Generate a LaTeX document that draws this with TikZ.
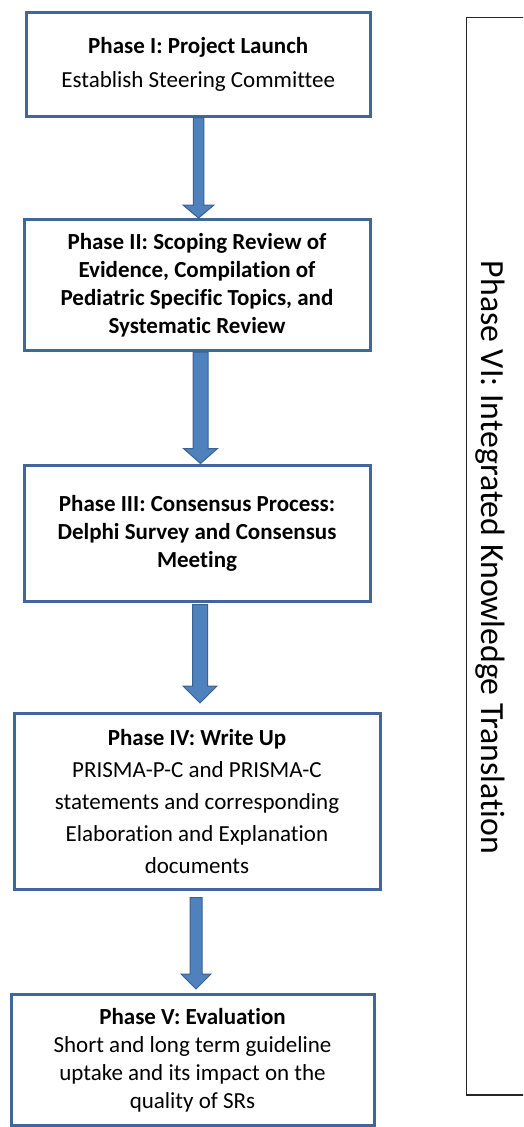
\documentclass[tikz,border=0pt]{standalone}
\usepackage{fontspec}
\setmainfont{Carlito}[Ligatures={NoCommon}]
\usetikzlibrary{calc}
\definecolor{boxblue}{HTML}{41679A}
\definecolor{arrowfill}{HTML}{4F81BD}
\definecolor{arrowline}{HTML}{3A6194}
\tikzset{
  phasebox/.style={draw=boxblue, line width=3pt, fill=white, rectangle, inner sep=0pt, align=center,
    font=\fontsize{23}{28}\selectfont},
  blockarrow/.style={draw=arrowline, fill=arrowfill, line width=1pt, line join=miter},
  sidebox/.style={draw=black!85, line width=1.2pt},
}
% #1 from, #2 to, #3 x centre, #4 shaft half width, #5 head half width, #6 head length, #7 start gap, #8 end gap
\newcommand{\phasearrow}[8]{%
  \path let \p1=(#1.south), \p2=(#2.north) in
    [blockarrow] (#3-#4,\y1-#7) -- (#3-#4,\y2+#8+#6) -- (#3-#5,\y2+#8+#6) -- (#3,\y2+#8)
      -- (#3+#5,\y2+#8+#6) -- (#3+#4,\y2+#8+#6) -- (#3+#4,\y1-#7) -- cycle;
}
\begin{document}
\begin{tikzpicture}[x=1pt,y=1pt]
\clip (0,0) rectangle (523,-1127);
\fill[white] (0,0) rectangle (523,-1127);

\node[phasebox, minimum width=344.5pt, minimum height=104pt, font=\fontsize{23}{34}\selectfont] (b1) at (198.25,-64)
  {\textbf{Phase I: Project Launch}\\Establish Steering Committee};
\node[phasebox, minimum width=346pt, minimum height=131pt] (b2) at (197,-285)
  {\textbf{Phase II: Scoping Review of}\\\textbf{Evidence, Compilation of}\\\textbf{Pediatric Specific Topics, and}\\\textbf{Systematic Review}};
\node[phasebox, minimum width=346pt, minimum height=135.5pt] (b3) at (197,-533.25)
  {\textbf{Phase III: Consensus Process:}\\\textbf{Delphi Survey and Consensus}\\\textbf{Meeting}};
\node[phasebox, minimum width=366pt, minimum height=176.5pt, font=\fontsize{23}{32}\selectfont] (b4) at (197,-801.25)
  {\textbf{Phase IV: Write Up}\\PRISMA-P-C and PRISMA-C\\statements and corresponding\\Elaboration and Explanation\\documents};
\node[phasebox, minimum width=363pt, minimum height=131pt] (b5) at (192.5,-1060)
  {\textbf{Phase V: Evaluation}\\Short and long term guideline\\uptake and its impact on the\\quality of SRs};

\phasearrow{b1}{b2}{198.5}{5.25}{15.5}{13}{0}{0}
\phasearrow{b2}{b3}{200.5}{7.5}{17}{15}{0}{0.5}
\phasearrow{b3}{b4}{200}{7.5}{17}{17}{2}{8.5}
\phasearrow{b4}{b5}{196}{6}{15}{15}{6.5}{4}

\draw[sidebox] (466.7,-17.7) rectangle (530,-1095);
\node[rotate=-90, anchor=base, inner sep=0pt, font=\fontsize{33.8}{40}\selectfont] (p6) at (481.7,-557.5)
  {Phase VI: Integrated Knowledge Translation};
\end{tikzpicture}
\end{document}
